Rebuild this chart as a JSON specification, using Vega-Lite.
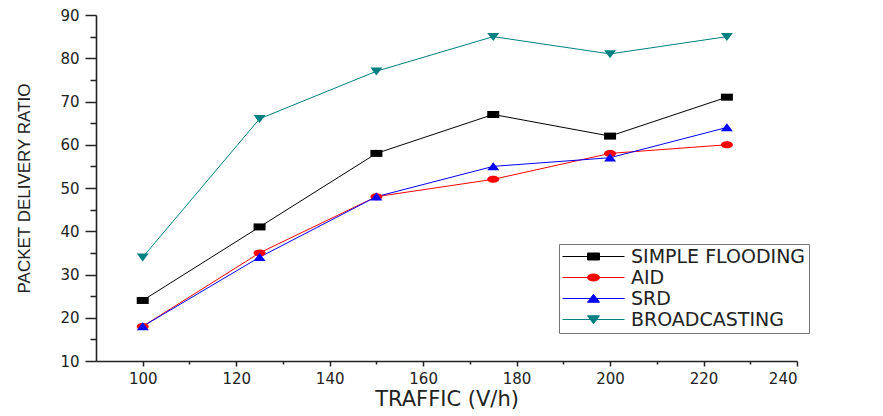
{
  "$schema": "https://vega.github.io/schema/vega-lite/v6.json",
  "width": 701,
  "height": 346,
  "autosize": {"type": "none"},
  "padding": {"left": 96, "top": 15, "right": 86, "bottom": 55},
  "background": "white",
  "config": {
    "view": {"stroke": null},
    "axis": {
      "grid": false,
      "labelFont": "DejaVu Sans",
      "labelFontSize": 15,
      "labelColor": "#222222",
      "titleColor": "#222222",
      "titleFontWeight": "normal",
      "domainColor": "#222222",
      "tickColor": "#222222",
      "domainWidth": 1.6,
      "tickWidth": 1.5
    }
  },
  "data": {
    "values": [
      {"traffic": 100, "series": "SIMPLE FLOODING", "pdr": 24},
      {"traffic": 125, "series": "SIMPLE FLOODING", "pdr": 41},
      {"traffic": 150, "series": "SIMPLE FLOODING", "pdr": 58},
      {"traffic": 175, "series": "SIMPLE FLOODING", "pdr": 67},
      {"traffic": 200, "series": "SIMPLE FLOODING", "pdr": 62},
      {"traffic": 225, "series": "SIMPLE FLOODING", "pdr": 71},
      {"traffic": 100, "series": "AID", "pdr": 18},
      {"traffic": 125, "series": "AID", "pdr": 35},
      {"traffic": 150, "series": "AID", "pdr": 48},
      {"traffic": 175, "series": "AID", "pdr": 52},
      {"traffic": 200, "series": "AID", "pdr": 58},
      {"traffic": 225, "series": "AID", "pdr": 60},
      {"traffic": 100, "series": "SRD", "pdr": 18},
      {"traffic": 125, "series": "SRD", "pdr": 34},
      {"traffic": 150, "series": "SRD", "pdr": 48},
      {"traffic": 175, "series": "SRD", "pdr": 55},
      {"traffic": 200, "series": "SRD", "pdr": 57},
      {"traffic": 225, "series": "SRD", "pdr": 64},
      {"traffic": 100, "series": "BROADCASTING", "pdr": 34},
      {"traffic": 125, "series": "BROADCASTING", "pdr": 66},
      {"traffic": 150, "series": "BROADCASTING", "pdr": 77},
      {"traffic": 175, "series": "BROADCASTING", "pdr": 85},
      {"traffic": 200, "series": "BROADCASTING", "pdr": 81},
      {"traffic": 225, "series": "BROADCASTING", "pdr": 85}
    ]
  },
  "layer": [
    {
      "mark": {"type": "line", "strokeWidth": 1},
      "encoding": {
        "x": {
          "field": "traffic", "type": "quantitative",
          "scale": {"domain": [90, 240], "nice": false, "zero": false},
          "axis": {
            "orient": "bottom",
            "values": [100, 120, 140, 160, 180, 200, 220, 240],
            "tickSize": 5,
            "labelPadding": 5,
            "title": "TRAFFIC (V/h)",
            "titleFont": "DejaVu Sans",
            "titleFontSize": 21,
            "titlePadding": 2
          }
        },
        "y": {
          "field": "pdr", "type": "quantitative",
          "scale": {"domain": [10, 90], "nice": false, "zero": false},
          "axis": {
            "orient": "left",
            "values": [10, 20, 30, 40, 50, 60, 70, 80, 90],
            "tickSize": 11,
            "labelPadding": 6,
            "title": "PACKET DELIVERY RATIO",
            "titleFont": "Liberation Sans",
            "titleFontSize": 17,
            "titlePadding": 26
          }
        },
        "color": {
          "field": "series", "type": "nominal",
          "scale": {
            "domain": ["SIMPLE FLOODING", "AID", "SRD", "BROADCASTING"],
            "range": ["#000000", "#ff0000", "#0000ff", "#008080"]
          },
          "legend": null
        }
      }
    },
    {
      "mark": {"type": "point", "filled": true, "opacity": 1, "size": 100},
      "encoding": {
        "x": {
          "field": "traffic", "type": "quantitative",
          "axis": {
            "orient": "bottom",
            "values": [110, 130, 150, 170, 190, 210, 230],
            "tickSize": 3,
            "labels": false,
            "domain": false,
            "title": null
          }
        },
        "y": {
          "field": "pdr", "type": "quantitative",
          "axis": {
            "orient": "left",
            "values": [15, 25, 35, 45, 55, 65, 75, 85],
            "tickSize": 6,
            "labels": false,
            "domain": false,
            "title": null
          }
        },
        "color": {
          "field": "series", "type": "nominal",
          "scale": {
            "domain": ["SIMPLE FLOODING", "AID", "SRD", "BROADCASTING"],
            "range": ["#000000", "#ff0000", "#0000ff", "#008080"]
          },
          "legend": null
        },
        "shape": {
          "field": "series", "type": "nominal",
          "scale": {
            "domain": ["SIMPLE FLOODING", "AID", "SRD", "BROADCASTING"],
            "range": [
              "M-1.2,-0.7H1.2V0.7H-1.2Z",
              "M-1.2,0A1.2,0.7,0,1,0,1.2,0A1.2,0.7,0,1,0,-1.2,0Z",
              "M0,-0.85L1.2,0.75H-1.2Z",
              "M0,0.85L1.2,-0.75H-1.2Z"
            ]
          },
          "legend": null
        }
      }
    },
    {
      "transform": [{"filter": "false"}],
      "mark": {"type": "point", "filled": true, "opacity": 1, "size": 100, "strokeWidth": 1},
      "encoding": {
        "x": {"field": "traffic", "type": "quantitative", "axis": null},
        "y": {"field": "pdr", "type": "quantitative", "axis": null},
        "fill": {
          "field": "series", "type": "nominal",
          "scale": {
            "domain": ["SIMPLE FLOODING", "AID", "SRD", "BROADCASTING"],
            "range": ["#000000", "#ff0000", "#0000ff", "#008080"]
          },
          "legend": {
            "title": null, "orient": "none", "legendX": 463, "legendY": 229,
            "padding": 3, "strokeColor": "#777777", "fillColor": "white",
            "labelFont": "DejaVu Sans", "labelFontSize": 19, "labelColor": "#222222",
            "labelLimit": 0,
            "symbolSize": 100, "symbolStrokeWidth": 1, "symbolOffset": 22,
            "labelOffset": 28, "rowPadding": 1
          }
        },
        "stroke": {
          "field": "series", "type": "nominal",
          "scale": {
            "domain": ["SIMPLE FLOODING", "AID", "SRD", "BROADCASTING"],
            "range": ["#000000", "#ff0000", "#0000ff", "#008080"]
          },
          "legend": {
            "title": null, "orient": "none", "legendX": 463, "legendY": 229,
            "padding": 3, "strokeColor": "#777777", "fillColor": "white",
            "labelFont": "DejaVu Sans", "labelFontSize": 19, "labelColor": "#222222",
            "labelLimit": 0,
            "symbolSize": 100, "symbolStrokeWidth": 1, "symbolOffset": 22,
            "labelOffset": 28, "rowPadding": 1
          }
        },
        "shape": {
          "field": "series", "type": "nominal",
          "scale": {
            "domain": ["SIMPLE FLOODING", "AID", "SRD", "BROADCASTING"],
            "range": [
              "M-6.2,0H6.2M-1.2,-0.7H1.2V0.7H-1.2Z",
              "M-6.2,0H6.2M-1.2,0A1.2,0.7,0,1,0,1.2,0A1.2,0.7,0,1,0,-1.2,0Z",
              "M-6.2,0H6.2M0,-0.85L1.2,0.75H-1.2Z",
              "M-6.2,0H6.2M0,0.85L1.2,-0.75H-1.2Z"
            ]
          },
          "legend": {
            "title": null, "orient": "none", "legendX": 463, "legendY": 229,
            "padding": 3, "strokeColor": "#777777", "fillColor": "white",
            "labelFont": "DejaVu Sans", "labelFontSize": 19, "labelColor": "#222222",
            "labelLimit": 0,
            "symbolSize": 100, "symbolStrokeWidth": 1, "symbolOffset": 22,
            "labelOffset": 28, "rowPadding": 1
          }
        }
      }
    }
  ],
  "resolve": {
    "scale": {"shape": "independent", "fill": "independent", "stroke": "independent"},
    "axis": {"x": "independent", "y": "independent"}
  }
}
